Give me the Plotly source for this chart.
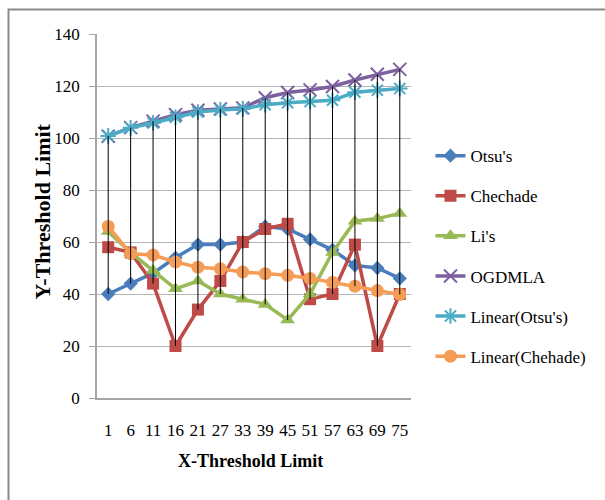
import plotly.graph_objects as go

# Threshold categories on the x axis
categories = ["1", "6", "11", "16", "21", "27", "33", "39", "45", "51", "57", "63", "69", "75"]

# Y-threshold limit per method
otsu = [40, 44, 48, 54, 59, 59, 60, 66, 65, 61, 57, 51, 50, 46]
chechade = [58, 56, 44, 20, 34, 45, 60, 65, 67, 38, 40, 59, 20, 40]
lis = [64, 56, 49, 42, 45, 40, 38, 36, 30, 40, 56, 68, 69, 71]
ogdmla = [100.7, 104, 106.5, 109, 110.7, 111.2, 111.6, 115.5, 117.5, 118.5, 119.8, 122.3, 124.5, 126.4]
linear_otsu = [100.8, 103.9, 105.8, 108, 110, 110.8, 111.2, 112.8, 113.6, 114, 114.5, 117.6, 118.4, 119]
linear_chehade = [66, 55.5, 55, 52.3, 50.3, 49.7, 48.5, 47.8, 47.2, 46, 44.5, 43, 41.3, 39.8]

series = [
    ("Otsu's", otsu, "#4A7EBB", dict(symbol="diamond", size=11)),
    ("Chechade", chechade, "#BE4B48", dict(symbol="square", size=12)),
    ("Li's", lis, "#98B954", dict(symbol="triangle-up", size=13)),
    ("OGDMLA", ogdmla, "#7D60A0", dict(symbol="x-thin-open", size=13, line=dict(width=2, color="#7D60A0"))),
    ("Linear(Otsu's)", linear_otsu, "#4BACC6", dict(symbol="asterisk-open", size=13, line=dict(width=2, color="#4BACC6"))),
    ("Linear(Chehade)", linear_chehade, "#F59D56", dict(symbol="circle", size=13)),
]

fig = go.Figure()
for i, (name, vals, color, marker) in enumerate(series):
    fig.add_trace(go.Scatter(
        x=categories, y=vals, name=name, mode="lines+markers",
        line=dict(color=color, width=3.5),
        marker=dict(color=color, **marker),
        legendgroup=f"g{i}",
    ))

# High-low lines spanning all series at each category
all_vals = [s[1] for s in series]
hl_x, hl_y = [], []
for j, c in enumerate(categories):
    col = [v[j] for v in all_vals]
    hl_x += [c, c, None]
    hl_y += [min(col), max(col), None]
fig.add_trace(go.Scatter(
    x=hl_x, y=hl_y, mode="lines", showlegend=False, hoverinfo="skip",
    line=dict(color="black", width=1),
))

serif = "Liberation Serif, Times New Roman, serif"

fig.update_layout(
    width=605, height=500,
    margin=dict(l=97, r=194, t=34, b=102),
    paper_bgcolor="white", plot_bgcolor="white",
    font=dict(family=serif, size=17, color="black"),
    showlegend=True,
    legend=dict(
        x=1.062, xanchor="left", y=0.714, yanchor="top",
        font=dict(family=serif, size=17, color="black"),
        tracegroupgap=15, bgcolor="rgba(0,0,0,0)",
    ),
    xaxis=dict(
        type="category", range=[-0.5, 13.5],
        showline=True, linecolor="#a6a6a6", linewidth=1.5,
        showgrid=False, ticks="", ticklabelstandoff=16,
        tickfont=dict(family=serif, size=17),
    ),
    yaxis=dict(
        range=[0, 140], dtick=20, tick0=0,
        showline=True, linecolor="#a6a6a6", linewidth=1.5,
        showgrid=True, gridcolor="#b5b5b5", gridwidth=1,
        ticks="outside", ticklen=6, tickcolor="#a6a6a6",
        ticklabelstandoff=6, zeroline=False,
        tickfont=dict(family=serif, size=17),
    ),
    shapes=[dict(
        type="rect", xref="paper", yref="paper",
        x0=(8.5 - 97) / 314, x1=(640 - 97) / 314,
        y0=(398 - 540) / 364, y1=(398 - 9.5) / 364,
        line=dict(color="#8a8a8a", width=2), fillcolor="rgba(0,0,0,0)", layer="below",
    )],
    annotations=[
        dict(text="<b>Y-Threshold Limit</b>", xref="paper", yref="paper",
             x=(41.5 - 97) / 314, y=(398 - 212) / 364, textangle=-90,
             showarrow=False, font=dict(family=serif, size=22, color="black"),
             xanchor="center", yanchor="middle"),
        dict(text="<b>X-Threshold Limit</b>", xref="paper", yref="paper",
             x=(250 - 97) / 314, y=(398 - 461) / 364,
             showarrow=False, font=dict(family=serif, size=18, color="black"),
             xanchor="center", yanchor="middle"),
    ],
)

fig.write_html("out.html")
